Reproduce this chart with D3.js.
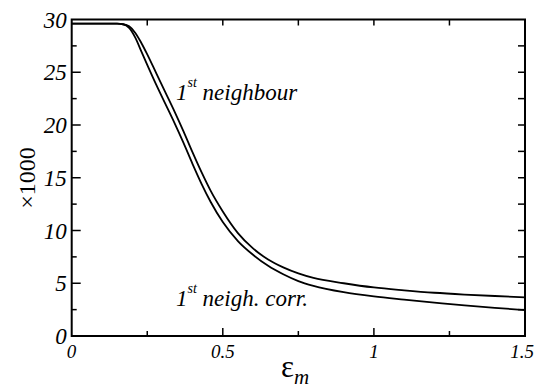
<!DOCTYPE html>
<html>
<head>
<meta charset="utf-8">
<script src="https://cdn.jsdelivr.net/npm/d3@7"></script>
<style>
  body { margin: 0; background: #fff; }
  svg { display: block; }
  #chart text, #chart tspan { font-family: "Liberation Serif", serif; }
</style>
</head>
<body>
<svg id="chart" width="539" height="391"></svg>
<script>
// eps_m sample points
const epsValues = [0, 0.05, 0.1, 0.15, 0.17, 0.19, 0.21, 0.23, 0.25, 0.28, 0.31, 0.34, 0.37, 0.40, 0.43, 0.46, 0.50, 0.55, 0.60, 0.65, 0.70, 0.75, 0.80, 0.90, 1.0, 1.1, 1.2, 1.3, 1.4, 1.5]
// "1st neighbour" (upper curve), x1000
const neighbour = [29.6, 29.6, 29.6, 29.6, 29.55, 29.35, 28.75, 27.8, 26.7, 24.9, 23.1, 21.3, 19.4, 17.4, 15.5, 13.75, 11.8, 9.75, 8.3, 7.25, 6.5, 5.93, 5.5, 5.0, 4.6, 4.33, 4.1, 3.93, 3.79, 3.67]
// "1st neigh. corr." (lower curve), x1000
const neighCorr = [29.6, 29.6, 29.6, 29.6, 29.55, 29.2, 28.3, 27.0, 25.7, 23.8, 22.0, 20.2, 18.3, 16.3, 14.4, 12.7, 10.8, 9.0, 7.7, 6.65, 5.85, 5.2, 4.75, 4.15, 3.75, 3.45, 3.17, 2.9, 2.67, 2.46]

const xTicks = [0, 0.5, 1, 1.5]
const xTickLabels = ["0", "0.5", "1", "1.5"]
const xMinorTicks = [0.25, 0.75, 1.25]
const yTicks = [0, 5, 10, 15, 20, 25, 30]
const yMinorTicks = [2.5, 7.5, 12.5, 17.5, 22.5, 27.5]

const FONT = "'Liberation Serif', serif"
const svg = d3.select("#chart")
const plotL = 71.7, plotR = 525, plotT = 19.5, plotB = 336

const x = d3.scaleLinear().domain([0, 1.5]).range([plotL, plotR])
const y = d3.scaleLinear().domain([0, 30]).range([plotB, plotT])

// ticks, all pointing inward
const tickLayer = svg.append("g").attr("stroke", "#000").attr("stroke-width", 1.5)

xTicks.concat(xMinorTicks).forEach(function(t){
    const major = xTicks.indexOf(t) >= 0
    if(t > 0 && t < 1.5){
        tickLayer.append("line")
            .attr("x1", x(t)).attr("x2", x(t))
            .attr("y1", plotB).attr("y2", plotB - (major ? 8 : 5))
        tickLayer.append("line")
            .attr("x1", x(t)).attr("x2", x(t))
            .attr("y1", plotT).attr("y2", plotT + 6)
    }
})

yTicks.concat(yMinorTicks).forEach(function(t){
    const major = yTicks.indexOf(t) >= 0
    if(t > 0 && t < 30){
        tickLayer.append("line")
            .attr("x1", plotL).attr("x2", plotL + (major ? 9 : 5))
            .attr("y1", y(t)).attr("y2", y(t))
        tickLayer.append("line")
            .attr("x1", plotR).attr("x2", plotR - 7)
            .attr("y1", y(t)).attr("y2", y(t))
    }
})

// frame
svg.append("rect")
    .attr("x", plotL).attr("y", plotT)
    .attr("width", plotR - plotL).attr("height", plotB - plotT)
    .attr("fill", "none").attr("stroke", "#000").attr("stroke-width", 2)

// curves
const line = d3.line()
    .x(function(d){ return x(d[0]) })
    .y(function(d){ return y(d[1]) })
    .curve(d3.curveMonotoneX)

;[neighbour, neighCorr].forEach(function(series){
    svg.append("path")
        .datum(epsValues.map(function(e, i){ return [e, series[i]] }))
        .attr("d", line)
        .attr("fill", "none")
        .attr("stroke", "#000")
        .attr("stroke-width", 1.8)
})

// y tick labels
svg.append("g").selectAll("text")
    .data(yTicks)
    .join("text")
    .style("font-family", FONT)
    .attr("x", plotL - 5)
    .attr("y", function(d){ return y(d) + 8 })
    .attr("text-anchor", "end")
    .attr("font-size", 23)
    .attr("font-style", "italic")
    .text(function(d){ return d })

// x tick labels
svg.append("g").selectAll("text")
    .data(xTicks)
    .join("text")
    .style("font-family", FONT)
    .attr("x", function(d){ return x(d) })
    .attr("y", plotB + 22)
    .attr("text-anchor", function(d, i){ return i == 0 ? "start" : "middle" })
    .attr("dx", function(d, i){ return i == 0 ? -5 : (i == xTicks.length - 1 ? -3 : 0) })
    .attr("font-size", 19)
    .attr("font-style", "italic")
    .text(function(d, i){ return xTickLabels[i] })

// axis titles
svg.append("text")
    .style("font-family", FONT)
    .attr("transform", "translate(35," + 178 + ") rotate(-90)")
    .attr("text-anchor", "middle")
    .attr("font-size", 24)
    .text("×1000")

const xt = svg.append("text")
    .style("font-family", FONT)
    .attr("x", 281).attr("y", 377)
xt.append("tspan").attr("font-size", 31).text("ε")
xt.append("tspan").attr("font-size", 21).attr("font-style", "italic").attr("dy", 7).text("m")

// curve labels
const lab1 = svg.append("text").attr("x", 176).attr("y", 100)
    .style("font-family", FONT)
    .attr("font-size", 23).attr("font-style", "italic")
lab1.append("tspan").text("1")
lab1.append("tspan").attr("font-size", 14).attr("dy", -13).text("st")
lab1.append("tspan").attr("dy", 13).text(" neighbour")

const lab2 = svg.append("text").attr("x", 176).attr("y", 306)
    .style("font-family", FONT)
    .attr("font-size", 23).attr("font-style", "italic")
lab2.append("tspan").text("1")
lab2.append("tspan").attr("font-size", 14).attr("dy", -13).text("st")
lab2.append("tspan").attr("dy", 13).text(" neigh. corr.")
</script>
</body>
</html>
